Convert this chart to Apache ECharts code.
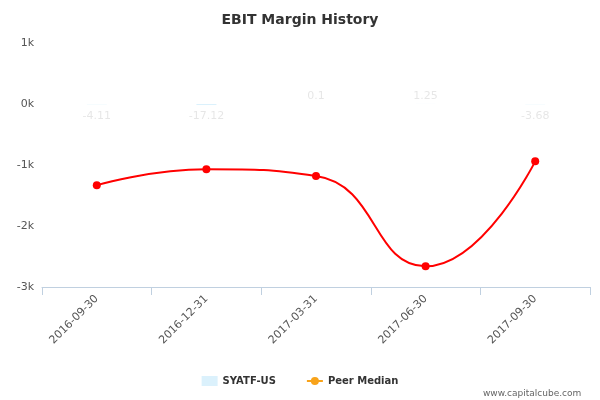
<!DOCTYPE html>
<html><head><meta charset="utf-8">
<script src="https://cdn.jsdelivr.net/npm/echarts@6/dist/echarts.min.js"></script>
<style>html,body{margin:0;padding:0;background:#fff}#c{width:600px;height:400px}</style>
</head><body><div id="c"></div>
<script>
const categories = ['2016-09-30','2016-12-31','2017-03-31','2017-06-30','2017-09-30'];
const companyValues = [-4.11, -17.12, 0.1, 1.25, -3.68];
const peerMedian = [-1330, -1070, -1180, -2660, -940];
const yTicks = [-3000, -2000, -1000, 0, 1000];

const chart = echarts.init(document.getElementById('c'));
chart.setOption({
  animation: false,
  title: { text: 'EBIT Margin History', left: 'center', top: 8,
    textStyle: { fontFamily: 'DejaVu Sans', fontSize: 14, fontWeight: 'bold', color: '#333' } },
  grid: { left: 42, right: 10, top: 43, bottom: 113 },
  legend: {
    bottom: 9, left: 'center', itemWidth: 16, itemHeight: 10, itemGap: 30,
    textStyle: { fontFamily: 'DejaVu Sans', fontSize: 10, fontWeight: 'bold', color: '#333' },
    data: [
      { name: 'SYATF-US', icon: 'rect', itemStyle: { color: '#0ea0ee' } },
      { name: 'Peer Median', itemStyle: { color: '#f8a31a' }, lineStyle: { color: '#f8a31a' } }
    ]
  },
  xAxis: {
    type: 'category', data: categories, position: 'bottom',
    axisLine: { onZero: false, lineStyle: { color: '#c0d0e0' } },
    axisTick: { show: true, length: 8, lineStyle: { color: '#c0d0e0' } },
    axisLabel: { rotate: 45, color: '#555', fontFamily: 'DejaVu Sans', fontSize: 11, margin: 10 }
  },
  yAxis: {
    type: 'value', min: -3000, max: 1000, interval: 1000,
    axisLine: { show: false }, axisTick: { show: false }, splitLine: { show: false },
    axisLabel: { color: '#555', fontFamily: 'DejaVu Sans', fontSize: 11,
      formatter: v => yTicks.includes(v) ? (v === 0 ? '0k' : (v / 1000) + 'k') : '' }
  },
  series: [
    { name: 'SYATF-US', type: 'bar', data: companyValues.map(v => ({
        value: v,
        label: { show: true, position: v >= 0 ? 'top' : 'bottom', distance: v >= 0 ? 2 : 6,
          color: '#555', fontFamily: 'DejaVu Sans', fontSize: 11, formatter: String(v) }
      })), itemStyle: { color: '#0ea0ee', opacity: 0.15 }, barWidth: 20 },
    { name: 'Peer Median', type: 'line', data: peerMedian, smooth: true,
      symbol: 'circle', symbolSize: 8, color: '#ff0000',
      lineStyle: { color: '#ff0000', width: 2 }, itemStyle: { color: '#ff0000' } }
  ]
});
</script>
<div style="position:absolute;left:483px;top:388px;font:9px 'DejaVu Sans';color:#666">www.capitalcube.com</div>
</body></html>
